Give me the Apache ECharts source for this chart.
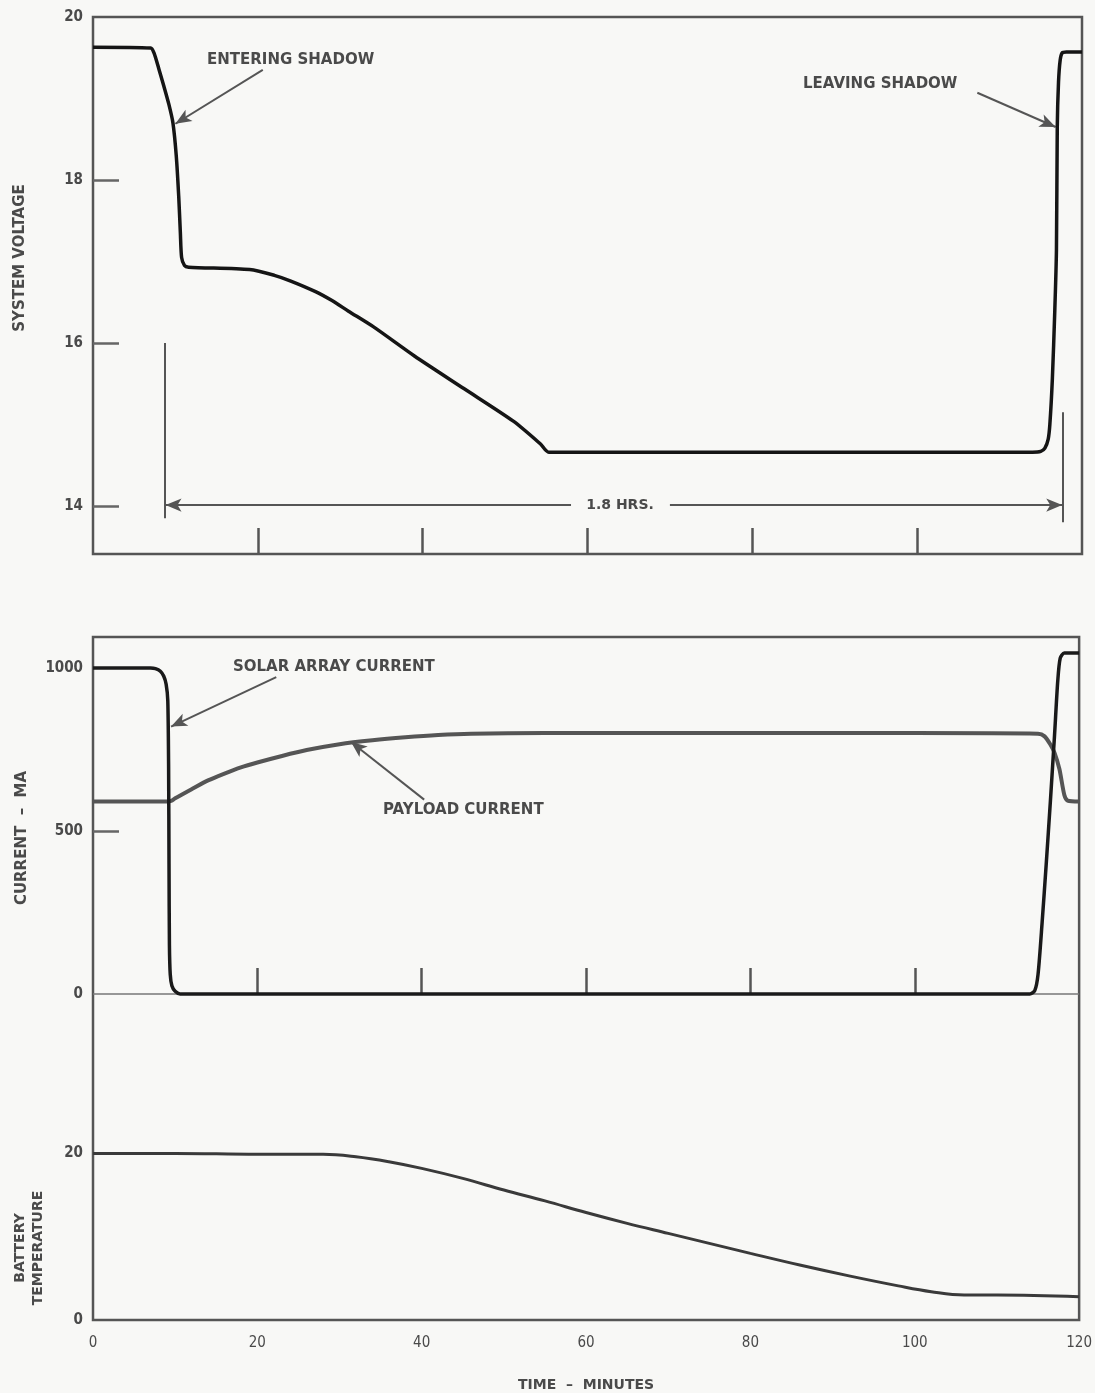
<!DOCTYPE html>
<html>
<head>
<meta charset="utf-8">
<script src="https://cdn.jsdelivr.net/npm/echarts@6/dist/echarts.min.js"></script>
<style>
html,body{margin:0;padding:0;background:#f8f8f6;}
#chart{width:1095px;height:1393px;}
</style>
</head>
<body>
<div id="chart"></div>
<script>
// ---- data (time in minutes) ----
const voltage = [[0,19.63],[7,19.62],[7.4,19.56],[8.0,19.36],[8.6,19.15],[9.2,18.93],[9.7,18.7],[10.1,18.3],[10.4,17.8],[10.6,17.35],[10.75,17.05],[11.1,16.95],[11.6,16.93],[19,16.9],[22,16.83],[24,16.76],[27,16.63],[29,16.52],[31,16.39],[34,16.2],[39,15.84],[45,15.44],[51,15.04],[54.3,14.76],[55.3,14.66],[80,14.66],[100,14.66],[114,14.66],[115,14.67],[115.5,14.71],[115.9,14.82],[116.1,15.0],[116.4,15.55],[116.7,16.4],[116.9,17.14],[117.0,18.65],[117.15,19.2],[117.35,19.47],[117.6,19.56],[118.1,19.57],[120,19.57]];
const solarCurrent = [[0,1000],[7,1000],[7.6,998],[8.2,990],[8.6,975],[8.9,950],[9.1,900],[9.2,700],[9.25,400],[9.3,150],[9.4,60],[9.6,25],[10,8],[10.6,0],[114,0],[114.6,10],[115,60],[115.5,220],[116,400],[116.5,590],[117,790],[117.4,960],[117.7,1030],[118.2,1046],[120,1046]];
const payloadCurrent = [[0,590],[9,590],[9.5,592],[10,600],[12,628],[14,655],[16,676],[18,695],[20,710],[23,730],[26,748],[30,766],[34,778],[38,787],[42,794],[46,798],[55,800],[80,800],[100,800],[115,798],[115.8,790],[116.5,765],[117,740],[117.6,690],[118.2,610],[118.6,593],[120,590]];
const batteryTemp = [[0,20],[10,20],[20,19.9],[28,19.9],[32,19.6],[36,19.0],[40,18.2],[45,17.0],[50,15.6],[55,14.3],[60,12.9],[65,11.6],[70,10.4],[75,9.2],[80,8.0],[86,6.6],[92,5.3],[98,4.1],[102,3.4],[106,3.0],[110,3.0],[120,2.8]];
const xTickValues = [20,40,60,80,100];
const xLabelValues = [0,20,40,60,80,100,120];
const voltageLabels = [14,16,18,20];
const voltageTicks = [14,16,18];
const currentLabels = [0,500,1000];
const currentTicks = [500];
const tempLabels = [0,20];

const FONT = "'DejaVu Sans Condensed','Liberation Sans Narrow',sans-serif";
const WIDE = "'DejaVu Sans',sans-serif";
const INK = '#4a4a4a';

const chart = echarts.init(document.getElementById('chart'), null, {renderer:'canvas'});

function yAx(grid, min, max, labels, ticks, extra) {
  return Object.assign({
    type:'value', gridIndex:grid, min:min, max:max, position:'left',
    axisLine:{show:false},
    splitLine:{show:false},
    axisTick:{show:true, inside:true, length:26, customValues:ticks, lineStyle:{color:'#666', width:2.5}},
    axisLabel:{show:true, customValues:labels, margin:10, color:INK, fontFamily:FONT, fontWeight:'bold', fontSize:15,
               formatter:function(v){return String(v);}}
  }, extra || {});
}

const arrowStyle = {color:'#555', width:2, type:'solid'};
const lineSmooth = 0.25;

const option = {
  backgroundColor:'#f8f8f6',
  animation:false,
  grid:[
    {left:93, top:17, width:989, height:537, show:true, borderColor:'#555', borderWidth:2.5, backgroundColor:'transparent'},
    {left:93, top:637, width:988, height:685, show:true, borderColor:'#555', borderWidth:2.5, backgroundColor:'transparent'}
  ],
  xAxis:[
    {type:'value', gridIndex:0, min:0, max:120, axisLine:{show:false}, splitLine:{show:false},
     axisTick:{show:true, inside:true, length:26, customValues:xTickValues, lineStyle:{color:'#555', width:2.5}},
     axisLabel:{show:false}},
    {type:'value', gridIndex:1, min:0, max:120, axisLine:{show:false}, splitLine:{show:false},
     axisTick:{show:true, inside:true, length:26, customValues:xTickValues, lineStyle:{color:'#555', width:2.5}},
     axisLabel:{show:true, customValues:xLabelValues, margin:16, color:INK, fontFamily:FONT, fontSize:15},
     name:'TIME  –  MINUTES', nameLocation:'middle', nameGap:58,
     nameTextStyle:{color:INK, fontFamily:WIDE, fontSize:14, fontWeight:'bold'}}
  ],
  yAxis:[
    yAx(0, 13.41, 20, voltageLabels, voltageTicks),
    yAx(1, -1000, 1094.8, currentLabels, currentTicks),
    yAx(1, 0, 82, tempLabels, [], {axisTick:{show:false}})
  ],
  graphic:[
    {type:'text', x:20, y:258, rotation:Math.PI/2, style:{text:'SYSTEM VOLTAGE', font:'bold 15px '+WIDE, fill:INK, align:'center', verticalAlign:'middle'}},
    {type:'text', x:22, y:838, rotation:Math.PI/2, style:{text:'CURRENT  –  MA', font:'bold 15px '+WIDE, fill:INK, align:'center', verticalAlign:'middle'}},
    {type:'text', x:29, y:1248, rotation:Math.PI/2, style:{text:'BATTERY\nTEMPERATURE', font:'bold 14px '+WIDE, fill:INK, align:'center', verticalAlign:'middle', lineHeight:18}},
    {type:'text', x:207, y:60, style:{text:'ENTERING SHADOW', font:'bold 15px '+WIDE, fill:INK, align:'left', verticalAlign:'middle'}},
    {type:'text', x:803, y:84, style:{text:'LEAVING SHADOW', font:'bold 15px '+WIDE, fill:INK, align:'left', verticalAlign:'middle'}},
    {type:'text', x:233, y:667, style:{text:'SOLAR ARRAY CURRENT', font:'bold 15px '+WIDE, fill:INK, align:'left', verticalAlign:'middle'}},
    {type:'text', x:383, y:810, style:{text:'PAYLOAD CURRENT', font:'bold 15px '+WIDE, fill:INK, align:'left', verticalAlign:'middle'}},
    {type:'text', x:620, y:505, style:{text:'1.8 HRS.', font:'bold 14px '+WIDE, fill:INK, align:'center', verticalAlign:'middle'}}
  ],
  series:[
    {name:'System voltage', type:'line', xAxisIndex:0, yAxisIndex:0, data:voltage, showSymbol:false,
     smooth:lineSmooth, lineStyle:{color:'#151515', width:3.5}, z:5,
     markLine:{silent:true, symbolSize:[10,16], label:{show:false}, lineStyle:arrowStyle,
       data:[
         [{coord:[20.6,19.35], symbol:'none'},{coord:[10.0,18.69], symbol:'arrow'}],
         [{coord:[107.3,19.07], symbol:'none'},{coord:[116.8,18.65], symbol:'arrow'}],
         [{coord:[8.7,16.0], symbol:'none'},{coord:[8.7,13.85], symbol:'none'}],
         [{coord:[117.7,15.15], symbol:'none'},{coord:[117.7,13.8], symbol:'none'}],
         [{coord:[8.8,14.01], symbol:'arrow'},{coord:[58.0,14.01], symbol:'none'}],
         [{coord:[70.0,14.01], symbol:'none'},{coord:[117.6,14.01], symbol:'arrow'}]
       ]}},
    {name:'Solar array current', type:'line', xAxisIndex:1, yAxisIndex:1, data:solarCurrent, showSymbol:false,
     smooth:lineSmooth, lineStyle:{color:'#1a1a1a', width:3.5}, z:5,
     markLine:{silent:true, symbol:'none', label:{show:false}, lineStyle:{color:'#777', width:1.5, type:'solid'},
       data:[[{coord:[0,0]},{coord:[120,0]}]]}},
    {name:'Payload current', type:'line', xAxisIndex:1, yAxisIndex:1, data:payloadCurrent, showSymbol:false,
     smooth:lineSmooth, lineStyle:{color:'#555', width:4}, z:4,
     markLine:{silent:true, symbolSize:[10,16], label:{show:false}, lineStyle:arrowStyle,
       data:[
         [{coord:[22.3,972], symbol:'none'},{coord:[9.5,820], symbol:'arrow'}],
         [{coord:[40.3,596], symbol:'none'},{coord:[31.4,773], symbol:'arrow'}]
       ]}},
    {name:'Battery temperature', type:'line', xAxisIndex:1, yAxisIndex:2, data:batteryTemp, showSymbol:false,
     smooth:0.4, lineStyle:{color:'#3a3a3a', width:3}, z:5}
  ]
};
chart.setOption(option);
</script>
</body>
</html>
